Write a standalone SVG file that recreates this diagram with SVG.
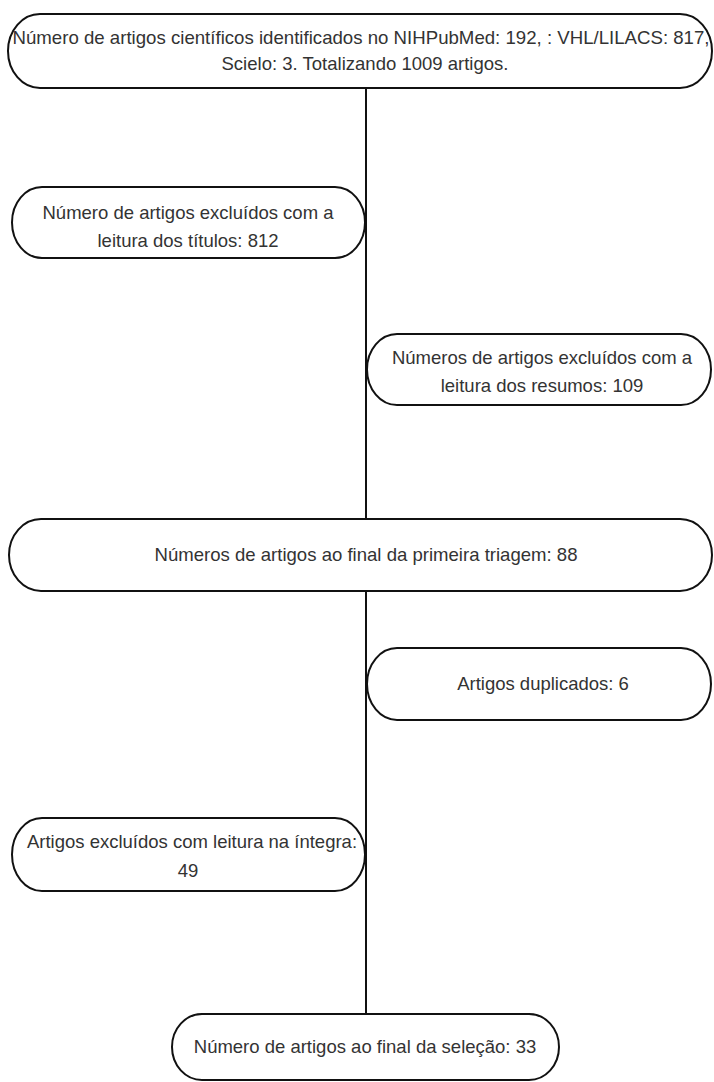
<svg xmlns="http://www.w3.org/2000/svg" width="714" height="1082" viewBox="0 0 714 1082">
<style>
.box{fill:#fff;stroke:#111;stroke-width:2}
.t{font-family:"Liberation Sans",Arial,sans-serif;font-size:18.5px;fill:#333;text-anchor:middle}
.c{stroke:#111;stroke-width:2;fill:none}
</style>
<rect width="714" height="1082" fill="#fff"/>
<g id="connectors">
<line class="c" x1="366" y1="88" x2="366" y2="519"/>
<line class="c" x1="366" y1="591" x2="366" y2="1014"/>
</g>
<g id="n1">
<rect class="box" x="8" y="14" width="704" height="74" rx="32" ry="37"/>
<text class="t" x="361" y="44" textLength="697" lengthAdjust="spacingAndGlyphs">Número de artigos científicos identificados no NIHPubMed: 192, : VHL/LILACS: 817,</text>
<text class="t" x="365" y="70" textLength="287" lengthAdjust="spacingAndGlyphs">Scielo: 3. Totalizando 1009 artigos.</text>
</g>
<g id="n2">
<rect class="box" x="12" y="187" width="353" height="71" rx="30" ry="35.5"/>
<text class="t" x="188" y="219">Número de artigos excluídos com a</text>
<text class="t" x="188" y="247">leitura dos títulos: 812</text>
</g>
<g id="n3">
<rect class="box" x="367" y="334" width="344" height="71" rx="30" ry="35.5"/>
<text class="t" x="542" y="364">Números de artigos excluídos com a</text>
<text class="t" x="542" y="392">leitura dos resumos: 109</text>
</g>
<g id="n4">
<rect class="box" x="9" y="519" width="703" height="72" rx="32" ry="36"/>
<text class="t" x="366" y="561" textLength="423" lengthAdjust="spacingAndGlyphs">Números de artigos ao final da primeira triagem: 88</text>
</g>
<g id="n5">
<rect class="box" x="367" y="648" width="344" height="72" rx="30" ry="36"/>
<text class="t" x="543" y="690">Artigos duplicados: 6</text>
</g>
<g id="n6">
<rect class="box" x="12" y="818" width="353" height="73" rx="30" ry="36.5"/>
<text class="t" x="192" y="848">Artigos excluídos com leitura na íntegra:</text>
<text class="t" x="188" y="877">49</text>
</g>
<g id="n7">
<rect class="box" x="172" y="1014" width="387" height="66" rx="30" ry="33"/>
<text class="t" x="365" y="1053">Número de artigos ao final da seleção: 33</text>
</g>
</svg>
